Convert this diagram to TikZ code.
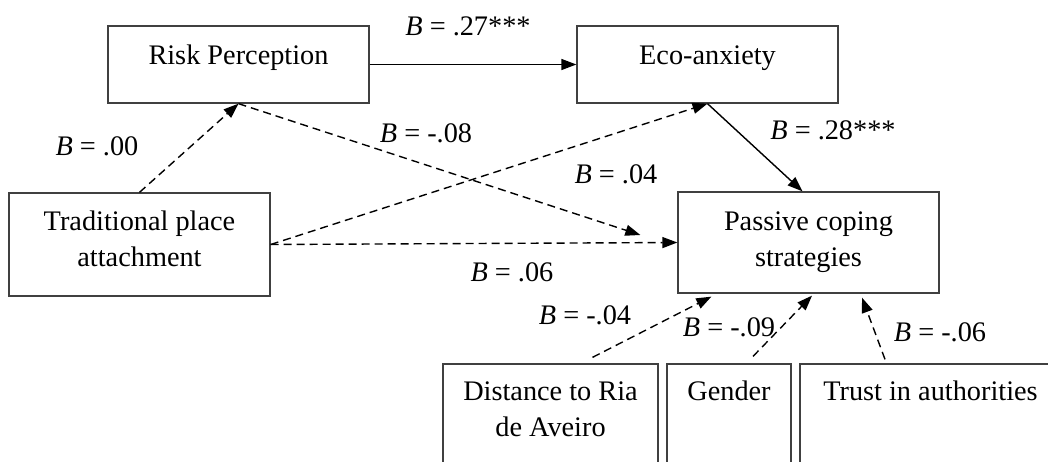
\documentclass[tikz,border=0pt]{standalone}
\usepackage{fontspec}
\setmainfont{Liberation Serif}
\usetikzlibrary{arrows.meta}

\tikzset{
  varbox/.style={draw=black!75, line width=1.3pt, minimum width=261pt,
    inner sep=0pt, align=center,
    font=\fontsize{28.3}{36}\selectfont},
  effect/.style={line width=1.4pt, -{Triangle[length=15pt,width=11pt]}},
  weakeffect/.style={effect, dash pattern=on 8pt off 5pt},
  coef/.style={inner sep=0pt, font=\fontsize{28.3}{34}\selectfont}
}
\newcommand{\twolines}[2]{\parbox[t]{210pt}{\centering #1\\#2}}

\begin{document}
\begin{tikzpicture}[x=1pt, y=-1pt]
\useasboundingbox (0,0) rectangle (1048,461);

% variables
\node[varbox, minimum height=77pt, text height=10pt, text depth=11pt]
  (rp) at (238.5,64.5) {Risk Perception};
\node[varbox, minimum height=77pt, text height=10pt, text depth=11pt]
  (eco) at (707.5,64.5) {Eco-anxiety};
\node[varbox, minimum height=103pt, text height=5pt, text depth=34pt]
  (tpa) at (139.5,244.5) {\twolines{Traditional place}{attachment}};
\node[varbox, minimum height=101pt, text height=5pt, text depth=30pt]
  (pcs) at (808.5,242.5) {\twolines{Passive coping}{strategies}};

% covariates
\node[varbox, minimum width=215pt, minimum height=110pt, text height=2pt, text depth=40pt]
  (dist) at (550.5,419) {\twolines{Distance to Ria}{de Aveiro}};
\node[varbox, minimum width=124pt, minimum height=110pt, text height=2pt, text depth=40pt]
  (gen) at (729,419) {Gender};
\node[varbox, minimum height=110pt, text height=2pt, text depth=40pt]
  (trust) at (930.5,419) {Trust in authorities};

% paths
\draw[effect] (rp.east) -- (eco.west);
\draw[effect] (eco.south) -- ([xshift=-6pt]pcs.north);
\draw[weakeffect] (tpa.north) -- (rp.south);
\draw[weakeffect] (rp.south) -- ([xshift=-37pt,yshift=7.5pt]pcs.west);
\draw[weakeffect] (tpa.east) -- (eco.south);
\draw[weakeffect] (tpa.east) -- (pcs.west);
\draw[weakeffect] ([xshift=42pt,yshift=6pt]dist.north) -- ([xshift=34pt,yshift=-3pt]pcs.south west);
\draw[weakeffect] ([xshift=24pt,yshift=7pt]gen.north) -- ([xshift=3.5pt,yshift=-2pt]pcs.south);
\draw[weakeffect] ([xshift=-45.5pt,yshift=4pt]trust.north) -- ([xshift=53.5pt,yshift=-4pt]pcs.south);

% coefficients
\node[coef] (b1) at (468,26) {\textit{B} = .27***};
\node[coef] (b2) at (97,146) {\textit{B} = .00};
\node[coef] (b3) at (426,133) {\textit{B} = -.08};
\node[coef] (b4) at (616,174) {\textit{B} = .04};
\node[coef] (b5) at (833,130) {\textit{B} = .28***};
\node[coef] (b6) at (512,272) {\textit{B} = .06};
\node[coef] (b7) at (585,315) {\textit{B} = -.04};
\node[coef] (b8) at (729,327) {\textit{B} = -.09};
\node[coef] (b9) at (940,332) {\textit{B} = -.06};
\end{tikzpicture}
\end{document}
